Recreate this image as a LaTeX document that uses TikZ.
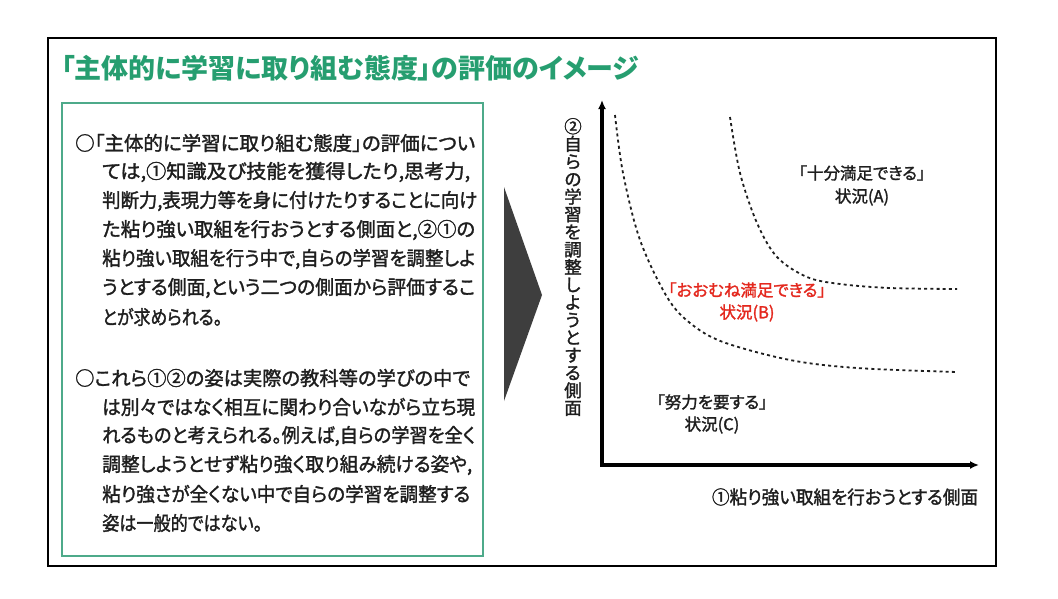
\documentclass[tikz,border=0pt]{standalone}
\usepackage{fontspec}
\setmainfont[RawFeature=+palt]{Noto Sans CJK JP}
\newfontfamily\bodyfont[RawFeature=+palt, FakeBold=1.6]{Noto Sans CJK JP}
\newfontfamily\vertfont[FakeBold=1.6]{Noto Sans CJK JP}
\usetikzlibrary{arrows.meta}
\definecolor{titlegreen}{RGB}{38,158,112}
\definecolor{boxgreen}{RGB}{78,170,138}
\definecolor{labelred}{RGB}{228,40,30}
\definecolor{arrowgray}{RGB}{62,62,62}
\definecolor{ink}{RGB}{30,30,30}
\newcommand\fitto[2]{\resizebox{#1}{\height}{#2}}
\tikzset{
  bodyline/.style={anchor=west, inner sep=0pt, text=ink, font=\bodyfont\fontsize{19.5}{19.5}\selectfont},
  zonelabel/.style={inner sep=0pt, text=ink, font=\bodyfont\fontsize{16.5}{16.5}\selectfont},
  axisline/.style={line width=3.5pt, {Latex[length=9pt,width=8pt]}-{Latex[length=9pt,width=8pt]}},
  boundary/.style={line width=1.8pt, dash pattern=on 3pt off 3.2pt, ink},
}
\begin{document}
\begin{tikzpicture}[x=1pt,y=-1pt]
\useasboundingbox (0,0) rectangle (1058,598);
\fill[white] (0,0) rectangle (1058,598);
% outer frame
\draw[line width=2pt, black] (48,38) rectangle (996,566);
% title
\node[anchor=west, inner sep=0pt, text=titlegreen, font=\fontsize{27}{27}\selectfont\bfseries] (title) at (61,68) {「主体的に学習に取り組む態度」の評価のイメージ};
% green text box
\draw[boxgreen, line width=2.5pt] (62,103) rectangle (483,556);
% paragraph 1
\node[bodyline] (p1a) at (75,143) {\fitto{400pt}{○「主体的に学習に取り組む態度」の評価につい}};
\node[bodyline] (p1b) at (102,172) {\fitto{368pt}{ては,①知識及び技能を獲得したり,思考力,}};
\node[bodyline] (p1c) at (102,201) {\fitto{375pt}{判断力,表現力等を身に付けたりすることに向け}};
\node[bodyline] (p1d) at (102,230) {\fitto{373pt}{た粘り強い取組を行おうとする側面と,②①の}};
\node[bodyline] (p1e) at (102,259) {\fitto{373pt}{粘り強い取組を行う中で,自らの学習を調整しよ}};
\node[bodyline] (p1f) at (102,288) {\fitto{373pt}{うとする側面,という二つの側面から評価するこ}};
\node[bodyline] (p1g) at (102,317) {\fitto{120pt}{とが求められる。}};
% paragraph 2
\node[bodyline] (p2a) at (75,378) {\fitto{395pt}{○これら①②の姿は実際の教科等の学びの中で}};
\node[bodyline] (p2b) at (102,407) {\fitto{373pt}{は別々ではなく相互に関わり合いながら立ち現}};
\node[bodyline] (p2c) at (102,436) {\fitto{373pt}{れるものと考えられる。例えば,自らの学習を全く}};
\node[bodyline] (p2d) at (102,465) {\fitto{370pt}{調整しようとせず粘り強く取り組み続ける姿や,}};
\node[bodyline] (p2e) at (102,494) {\fitto{368pt}{粘り強さが全くない中で自らの学習を調整する}};
\node[bodyline] (p2f) at (102,523) {\fitto{160pt}{姿は一般的ではない。}};
% big gray arrow
\fill[arrowgray] (504,187) -- (542,295) -- (504,401) -- cycle;
% axes
\coordinate (O) at (602,465);
\coordinate (ytop) at (602,100);
\coordinate (xend) at (979,465);
\draw[axisline] (ytop) -- (O) -- (xend);
% axis labels
\node[inner sep=0pt, text=ink, align=center, font=\vertfont\fontsize{17.5}{17.6}\selectfont] (ylabel) at (573,267)
  {②\\自\\ら\\の\\学\\習\\を\\調\\整\\し\\よ\\う\\と\\す\\る\\側\\面};
\node[inner sep=0pt, text=ink, font=\bodyfont\fontsize{18.5}{18.5}\selectfont] (xlabel) at (845,497) {\fitto{266pt}{①粘り強い取組を行おうとする側面}};
% boundary curves
\draw[boundary] plot[smooth, tension=0.55] coordinates {(615,115) (623,173) (640,240) (667,297) (690,323) (723,342) (790,360) (857,368) (957,372)};
\draw[boundary] plot[smooth, tension=0.55] coordinates {(730,117) (740,173) (757,223) (777,257) (807,277) (840,284) (890,288) (957,289)};
% zone labels
\node[zonelabel] (la1) at (862,173) {「十分満足できる」};
\node[zonelabel] (la2) at (862,197) {状況(A)};
\node[zonelabel, text=labelred] (lb1) at (747,290) {「おおむね満足できる」};
\node[zonelabel, text=labelred] (lb2) at (747,313) {状況(B)};
\node[zonelabel] (lc1) at (712,402) {「努力を要する」};
\node[zonelabel] (lc2) at (712,425) {状況(C)};
\end{tikzpicture}
\end{document}
